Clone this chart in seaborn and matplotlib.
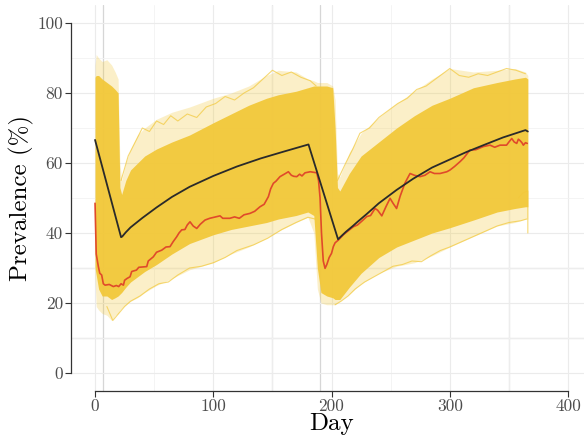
import matplotlib
matplotlib.use("Agg")
import matplotlib.pyplot as plt
import seaborn as sns
import pandas as pd

# ---- simulation band: envelopes of the spaghetti of runs ----
band_day = [0, 1, 3, 6, 10, 14, 17, 19.5, 21, 22.5, 26, 30, 36, 42, 52, 65, 80, 100,
            115, 130, 145, 155, 170, 180, 185, 188, 191, 196, 201, 203, 205, 207, 215,
            225, 240, 255, 270, 285, 300, 320, 340, 355, 364, 366]
band_faint_hi = [88, 91, 90, 89, 89.5, 88, 86, 84, 60, 55, 60, 64, 68, 70, 72.5, 74.5, 76, 78.5,
                 80, 82, 85, 86.5, 86, 84, 83.5, 83, 83, 83, 82, 78, 57, 56, 63,
                 68.5, 73, 77, 80.5, 84, 87, 86, 86.5, 87, 86, 85]
band_dense_hi = [84.5, 85, 85, 84, 83, 82, 81, 80, 53, 51, 55, 58, 60, 62, 64, 66, 68, 71.5,
                 74, 76.5, 78.5, 79.5, 80.5, 81.5, 82, 82, 82, 82, 81.5, 70, 53, 52, 57,
                 62, 66, 70, 73.5, 76.5, 78.5, 81.5, 83, 84, 84.5, 84]
band_dense_lo = [30, 28, 24, 22, 22, 21, 21.5, 22, 22.5, 23, 24.5, 26, 27.5, 29, 31, 34, 37, 39.5,
                 41, 42, 43, 44, 45, 46, 45, 30, 23, 22, 21.5, 21, 21, 21, 24.5,
                 28.5, 33, 36, 38, 40, 41.5, 43.7, 46, 47, 47.5, 47.5]
band_faint_lo = [27, 19, 18, 17, 16.5, 15, 16.5, 17, 18, 18.5, 19.5, 20.5, 21.5, 23, 25, 27, 29.5, 31.5,
                 34, 36, 38.5, 40.5, 43, 44.5, 40, 24, 20, 19.5, 19.5, 19.5, 20, 20.5, 22.5,
                 25.5, 28.5, 30.5, 31.5, 33.5, 36, 39, 42, 43, 44, 44]

# ---- a few individual outlying runs ----
run_hi1_day = [22, 28, 34, 40, 46, 52, 58, 64, 70, 78, 86, 94, 102, 110, 118, 126, 134, 142,
               150, 158, 166, 174, 182, 187]
run_hi1_prev = [55, 62, 66, 70, 69, 72, 71, 73.5, 72, 74, 73, 76, 77, 79, 78, 80, 81.5, 84,
                86.5, 85, 86, 84.5, 83.5, 82]
run_lo1_day = [10, 15, 20, 25, 30, 38, 46, 54, 62, 70, 80, 90, 100, 110, 120, 134, 146, 158,
               170, 180, 186]
run_lo1_prev = [19, 15, 17, 19, 20.5, 22, 24, 25.5, 26, 28, 30, 30.5, 31.5, 33, 35, 36.6, 38.5, 41,
                43, 44.5, 44]
run_hi2_day = [205, 212, 218, 224, 232, 240, 248, 256, 264, 272, 280, 288, 296, 300, 308, 316,
               324, 332, 340, 348, 356, 364]
run_hi2_prev = [55, 60, 64, 68.5, 70, 73, 75, 77, 78.5, 81, 82, 84, 86, 87, 85, 84.5,
                85.5, 85, 86, 87, 86.5, 85.5]
run_lo2_day = [203, 208, 214, 220, 228, 236, 244, 252, 260, 268, 276, 284, 292, 300, 310, 320,
               330, 340, 350, 360, 365]
run_lo2_prev = [19.5, 20.5, 22, 24, 26, 27.5, 29, 30.5, 31, 32, 31.8, 33.5, 35, 36, 37.5, 39,
                40.5, 42, 43, 43.5, 44]
run_tail_day = [358, 362, 365.5, 366, 366]
run_tail_prev = [50, 51.5, 52, 52, 40]

# ---- mean of the simulations (black) ----
mean_day = [0, 22, 23, 26, 30, 40, 52, 65, 80, 100, 120, 140, 160, 180.5, 205.5, 207,
            212, 218, 222, 230, 240, 255, 269, 285, 300, 314.5, 330, 345, 364, 366]
mean_prev = [66.6, 38.8, 39.0, 40.2, 41.6, 44.3, 47.3, 50.3, 53.2, 56.3, 59.0, 61.3, 63.3, 65.3, 38.2, 38.7,
             40.3, 42.0, 43.2, 45.5, 48.5, 52.3, 55.5, 58.7, 61.0, 63.2, 65.3, 67.3, 69.4, 69.0]

# ---- observed prevalence (red) ----
obs_day = [0, 1, 2.8, 4, 5.6, 7, 8.5, 12, 15.5, 18, 20, 22, 24, 25, 27, 29.6, 31, 35, 37, 43.7,
           45, 49.3, 52, 56.4, 60, 63.4, 66, 69, 71, 73.3, 76, 78, 80.3, 83, 86, 89, 93, 97,
           105.7, 108, 114, 118, 122, 126, 131, 135, 139.5, 143, 146.6, 148.5, 150.8, 153,
           156.4, 160, 163.5, 166, 168, 170.6, 173, 175, 177.6, 182, 187.5, 189, 190.3, 191.5,
           193, 194.5, 196, 198, 200, 201.5, 203, 205.8, 210, 214, 218.5, 222, 226, 229.8, 233,
           236.8, 239, 242.5, 246, 249.5, 252, 255, 258, 262, 264, 266.4, 270, 274.8, 279,
           283.3, 287, 291.7, 297.5, 300.2, 304, 308.7, 312, 317, 322, 328.4, 334, 338, 342.5,
           348, 350, 352.4, 354.5, 356.6, 358, 359.4, 361, 362.2, 364, 365.5]
obs_prev = [48.5, 34, 30.4, 28.5, 28, 25.5, 25.1, 25.3, 24.7, 25, 24.7, 25.5, 25.1, 26.5, 27, 27.5, 29, 29.4, 30.2, 30.4,
            32, 33.2, 34.5, 35.1, 36, 36.1, 37.5, 38.9, 40, 40.9, 41, 42.3, 43.2, 42, 41.3, 42.5, 43.7, 44.2,
            44.9, 44.2, 44.2, 44.6, 44.2, 45.2, 45.6, 46.2, 47.5, 48.2, 50.4, 52.6, 54.2, 54.8,
            56.1, 56.8, 57.5, 56.5, 56.2, 56.1, 56.8, 56.3, 57.2, 57.5, 57.2, 55, 50, 40,
            32, 29.9, 31, 33, 34.2, 36.1, 37.2, 38, 39.5, 40.6, 41.8, 42.3, 43.5, 44.7, 45,
            47, 46.5, 44.9, 47.5, 49.9, 48.5, 47, 50.5, 54.2, 55.5, 57, 56.5, 56.1, 56.5,
            57.5, 57, 57, 57.5, 58, 59, 60.4, 61.5, 63.7, 63.8, 64.7, 65.1, 64.5, 65.1,
            65.1, 66, 67, 66, 65.6, 66.8, 66.4, 65.8, 65.1, 65.8, 65.6]

x_ticks = [0, 100, 200, 300, 400]
y_ticks = [0, 20, 40, 60, 80, 100]
x_minor = [50, 150, 250, 350]
y_minor = [10, 30, 50, 70, 90]

YELLOW = "#F2C83A"
RED = "#E04A2A"
BLACK = "#2a2a2a"

sns.set_theme(style="white")
plt.rcParams["font.family"] = ["cmr10", "DejaVu Serif"]
plt.rcParams["mathtext.fontset"] = "cm"
plt.rcParams["axes.unicode_minus"] = False

fig = plt.figure(figsize=(5.84, 4.4), dpi=100)
ax = fig.add_axes([71.4 / 584, 49.5 / 440, (584 - 71.4) / 584, 385 / 440])
ax.set_xlim(-20, 413.5)
ax.set_ylim(-5, 105)

# grid
ax.set_xticks(x_ticks)
ax.set_yticks(y_ticks)
ax.set_xticks(x_minor, minor=True)
ax.set_yticks(y_minor, minor=True)
ax.grid(which="major", color="#ebebeb", lw=0.8)
ax.grid(which="minor", color="#f2f2f2", lw=0.6)
for d in [7, 150, 190, 350]:
    ax.axvline(d, color="#d6d6d6", lw=0.9, zorder=0.5)
for v in [10, 30]:
    ax.axhline(v, color="#d6d6d6", lw=0.9, zorder=0.5)
ax.set_axisbelow(True)

band = pd.DataFrame({"day": band_day, "fhi": band_faint_hi, "dhi": band_dense_hi,
                     "dlo": band_dense_lo, "flo": band_faint_lo})
ax.fill_between(band["day"], band["flo"], band["fhi"], color=YELLOW, alpha=0.28, lw=0, zorder=1)
ax.fill_between(band["day"], band["dlo"], band["dhi"], color=YELLOW, alpha=0.95, lw=0, zorder=2)

for rd, rp in [(run_hi1_day, run_hi1_prev), (run_lo1_day, run_lo1_prev),
               (run_hi2_day, run_hi2_prev), (run_lo2_day, run_lo2_prev),
               (run_tail_day, run_tail_prev)]:
    sns.lineplot(x=rd, y=rp, color=YELLOW, lw=0.8, alpha=0.7, ax=ax,
                 estimator=None, sort=False, zorder=1.5)

sns.lineplot(x=mean_day, y=mean_prev, color=BLACK, lw=1.3, ax=ax, estimator=None, sort=False, zorder=4)
sns.lineplot(x=obs_day, y=obs_prev, color=RED, lw=1.2, ax=ax, estimator=None, sort=False, zorder=3)

for s in ["top", "right"]:
    ax.spines[s].set_visible(False)
ax.spines["left"].set_bounds(0, 100)
ax.spines["bottom"].set_bounds(0, 400)
for s in ["left", "bottom"]:
    ax.spines[s].set_color("#333333")
    ax.spines[s].set_linewidth(0.9)

ax.tick_params(axis="both", which="major", direction="out", length=4, width=0.8,
               color="#333333", labelcolor="#4d4d4d", labelsize=12.5, pad=2,
               bottom=True, left=True)
ax.tick_params(axis="both", which="minor", length=0)
ax.set_xticklabels([str(v) for v in x_ticks])
ax.set_yticklabels([str(v) for v in y_ticks])

ax.set_xlabel("Day", fontsize=18, color="black")
ax.set_ylabel("Prevalence (%)", fontsize=18, color="black")
ax.xaxis.set_label_coords((331.5 - 71.4) / (584 - 71.4), -0.058)
ax.yaxis.set_label_coords(-0.072, 0.5)

fig.savefig("out.png", dpi=100)
